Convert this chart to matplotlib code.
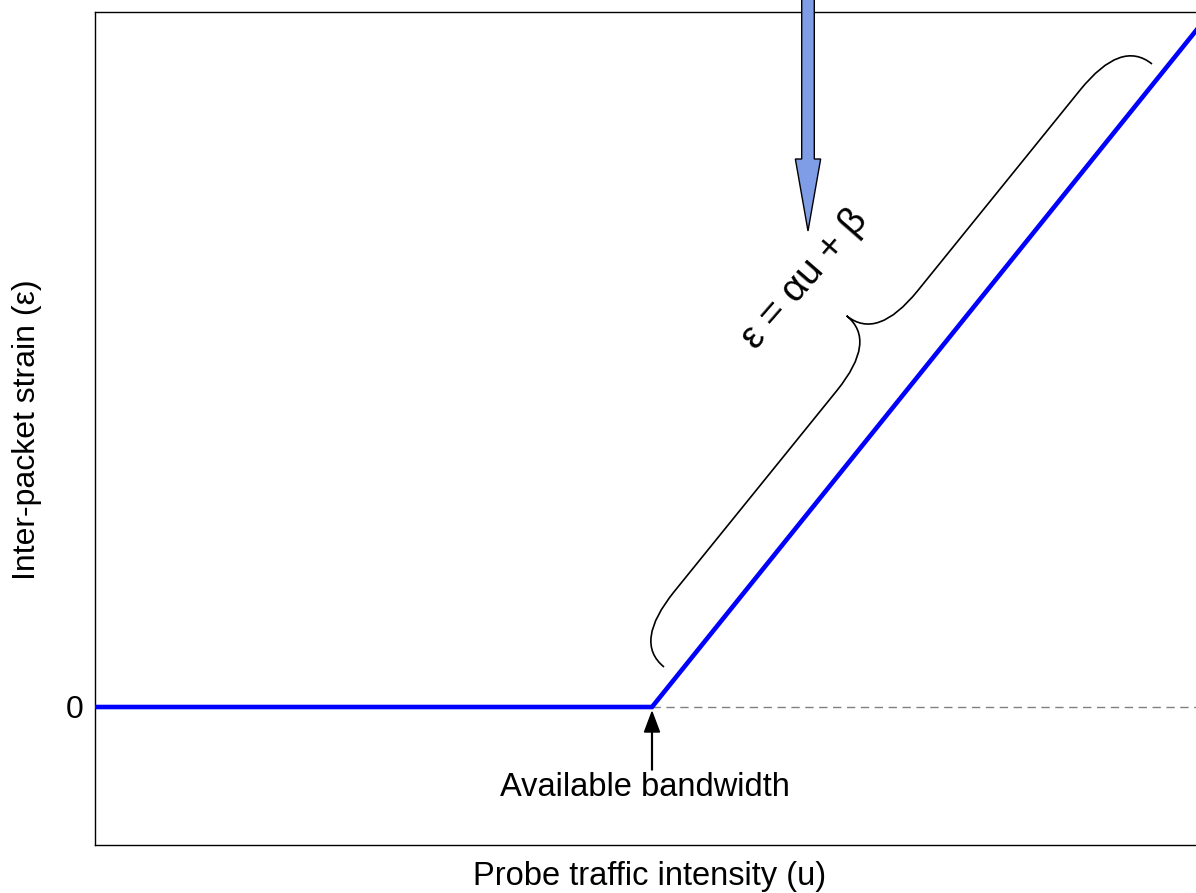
import numpy as np
import matplotlib.pyplot as plt
from matplotlib.path import Path
from matplotlib.patches import PathPatch, FancyArrow

plt.rcParams['font.family'] = ['Liberation Sans', 'DejaVu Sans']

# Piecewise strain curve: zero until the available bandwidth, then linear
u = [0.0, 5.57, 11.2]
strain = [0.0, 0.0, 7.0]
avail_bw = 5.57
zero_ref_u = [5.57, 11.2]
zero_ref = [0.0, 0.0]

fig = plt.figure(figsize=(11.96, 8.93), dpi=100)
ax = fig.add_axes([95 / 1196, 48 / 893, 1110 / 1196, 833 / 893])
ax.set_xlim(0, 11.1)
ax.set_ylim(-1.38, 6.95)

# the curve + dashed zero reference
ax.plot(zero_ref_u, zero_ref, color='#808080', lw=1, ls=(0, (6, 4)), zorder=2)
ax.plot(u, strain, color='#0000ff', lw=3.3, solid_joinstyle='miter', zorder=3)

# arrow + label for the available bandwidth
ax.add_patch(FancyArrow(avail_bw, -0.63, 0, 0.58, width=0.008, head_width=0.15,
                        head_length=0.2, length_includes_head=True,
                        color='black', zorder=4))
ax.text(5.50, -0.81, 'Available bandwidth', ha='center', va='center', fontsize=23.5)


# curly brace parallel to the rising part of the curve
def brace(p0, p1, h=0.79, a=0.65, b=0.64):
    p0 = np.asarray(p0)
    p1 = np.asarray(p1)
    d = p1 - p0
    L = np.hypot(*d)
    ex = d / L
    ey = np.array([-ex[1], ex[0]])
    local = [(0, 0), (0, h / 2), (a, h / 2),
             (L / 2 - b, h / 2), (L / 2, h / 2), (L / 2, h),
             (L / 2, h / 2), (L / 2 + b, h / 2),
             (L - a, h / 2), (L, h / 2), (L, 0)]
    codes = [Path.MOVETO, Path.CURVE3, Path.CURVE3,
             Path.LINETO, Path.CURVE3, Path.CURVE3,
             Path.CURVE3, Path.CURVE3,
             Path.LINETO, Path.CURVE3, Path.CURVE3]
    verts = [p0 + s * ex + t * ey for s, t in local]
    return Path(verts, codes)


ax.add_patch(PathPatch(brace((5.69, 0.40), (10.57, 6.43)), fc='none',
                       ec='black', lw=1.2, zorder=3))
ax.text(7.10, 4.28, 'ε = αu + β', rotation=49, ha='center', va='center',
        rotation_mode='anchor', fontsize=28)

# big blue arrow coming in from the top
ax.add_patch(FancyArrow(7.13, 7.2, 0, -2.44, width=0.126, head_width=0.253,
                        head_length=0.72, length_includes_head=True,
                        fc='#7f9de6', ec='black', lw=1, clip_on=False, zorder=5))

ax.set_xticks([])
ax.set_yticks([0])
ax.tick_params(axis='y', length=0, pad=8, labelsize=23)
ax.spines['right'].set_visible(False)
for sp in ['left', 'top', 'bottom']:
    ax.spines[sp].set_linewidth(1)

fig.text(27 / 1196, (893 - 430) / 893, 'Inter-packet strain (ε)', rotation=90,
         ha='center', va='center', fontsize=23)
fig.text(650 / 1196, (893 - 876) / 893, 'Probe traffic intensity (u)',
         ha='center', va='center', fontsize=23.5)

fig.savefig('out.png', dpi=100)
